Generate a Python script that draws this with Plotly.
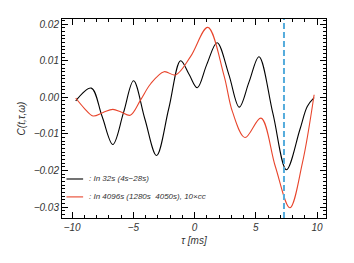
import plotly.graph_objects as go

# ---- data ----
tau_32 = [-9.7, -8.43, -7.55, -6.67, -5.8, -4.98, -4.05, -3.1, -2.1, -1.14, -0.45, 0.22,
          1.0, 1.84, 2.8, 3.65, 4.45, 5.26, 6.4, 7.5, 8.6, 9.2, 9.76]
c_32 = [-0.0010, 0.0025, -0.0052, -0.0129, -0.0042, 0.0045, -0.0060, -0.0159, -0.0030,
        0.0100, 0.0063, 0.0026, 0.0090, 0.0149, 0.0062, -0.0027, 0.0042, 0.0111,
        -0.0045, -0.0198, -0.0088, -0.0025, -0.0001]

tau_4096 = [-9.7, -9.0, -8.29, -7.5, -6.67, -6.0, -5.25, -4.4, -3.58, -2.49, -1.55, -0.33,
            1.08, 2.4, 3.1, 4.12, 5.42, 6.6, 7.78, 8.8, 9.76]
c_4096 = [-0.0002, -0.0030, -0.0051, -0.0042, -0.0033, -0.0040, -0.0049, -0.0007, 0.0037,
          0.0070, 0.0061, 0.0111, 0.0191, 0.0060, -0.0040, -0.0110, -0.0057, -0.0190,
          -0.0302, -0.0180, 0.0007]

tau_marker = 7.3

x_ticks = [-10, -5, 0, 5, 10]
y_ticks = [0.02, 0.01, 0.00, -0.01, -0.02, -0.03]
y_ticklabels = ["0.02", "0.01", "0.00", "\u22120.01", "\u22120.02", "\u22120.03"]
x_ticklabels = ["\u221210", "\u22125", "0", "5", "10"]

label_32 = ": In 32s (4s\u221228s)"
label_4096 = ": In 4096s (1280s  4050s), 10\u00d7cc"

BLACK = "#000000"
RED = "#E8452C"
BLUE = "#55ACDC"
TEXT = "#333333"
FONT = "Liberation Sans"

fig = go.Figure()
fig.add_trace(go.Scatter(x=tau_32, y=c_32, mode="lines", name=label_32,
                         line=dict(color=BLACK, width=1.1, shape="spline", smoothing=1.0)))
fig.add_trace(go.Scatter(x=tau_4096, y=c_4096, mode="lines", name=label_4096,
                         line=dict(color=RED, width=1.1, shape="spline", smoothing=1.0)))

fig.add_vline(x=tau_marker, line=dict(color=BLUE, width=2, dash="6px,3px"))

# manual legend (inside plot, lower-left)
legend_items = [(label_32, BLACK, 0.196), (label_4096, RED, 0.106)]
for text, col, yp in legend_items:
    fig.add_shape(type="line", xref="paper", yref="paper", x0=0.017, x1=0.08, y0=yp, y1=yp,
                  line=dict(color=col, width=1.1))
    fig.add_annotation(xref="paper", yref="paper", x=0.095, y=yp, text=text, showarrow=False,
                       xanchor="left", yanchor="middle",
                       font=dict(family=FONT, size=8, color=TEXT, style="italic"))

# page body has an 8px default margin; compensate in figure margins
fig.update_layout(
    width=354, height=263,
    margin=dict(l=54, r=36, t=11, b=53, autoexpand=False),
    paper_bgcolor="white", plot_bgcolor="white",
    showlegend=False,
    font=dict(family=FONT, size=10, color=TEXT),
)
fig.update_xaxes(
    range=[-10.82, 10.73], tickvals=x_ticks, ticktext=x_ticklabels,
    showgrid=False, zeroline=False, showline=True, linecolor="black", linewidth=1,
    mirror="ticks", ticks="inside", ticklen=6, tickcolor="black",
    minor=dict(dtick=1, ticks="inside", ticklen=3, tickcolor="black"),
    tickfont=dict(family=FONT, size=10, color=TEXT, style="italic"),
    automargin=False,
    title=dict(text="\u03c4 [ms]", standoff=4,
               font=dict(family=FONT, size=10, color=TEXT, style="italic")),
)
fig.update_yaxes(
    range=[-0.0330, 0.0214], tickvals=y_ticks, ticktext=y_ticklabels,
    showgrid=False, zeroline=False, showline=True, linecolor="black", linewidth=1,
    mirror="ticks", ticks="inside", ticklen=6, tickcolor="black",
    minor=dict(dtick=0.001, ticks="inside", ticklen=3, tickcolor="black"),
    tickfont=dict(family=FONT, size=10, color=TEXT, style="italic"),
    automargin=False,
    title=dict(text="C(t,\u03c4,\u03c9)", standoff=6,
               font=dict(family=FONT, size=10, color=TEXT, style="italic")),
)

fig.write_html("out.html")
